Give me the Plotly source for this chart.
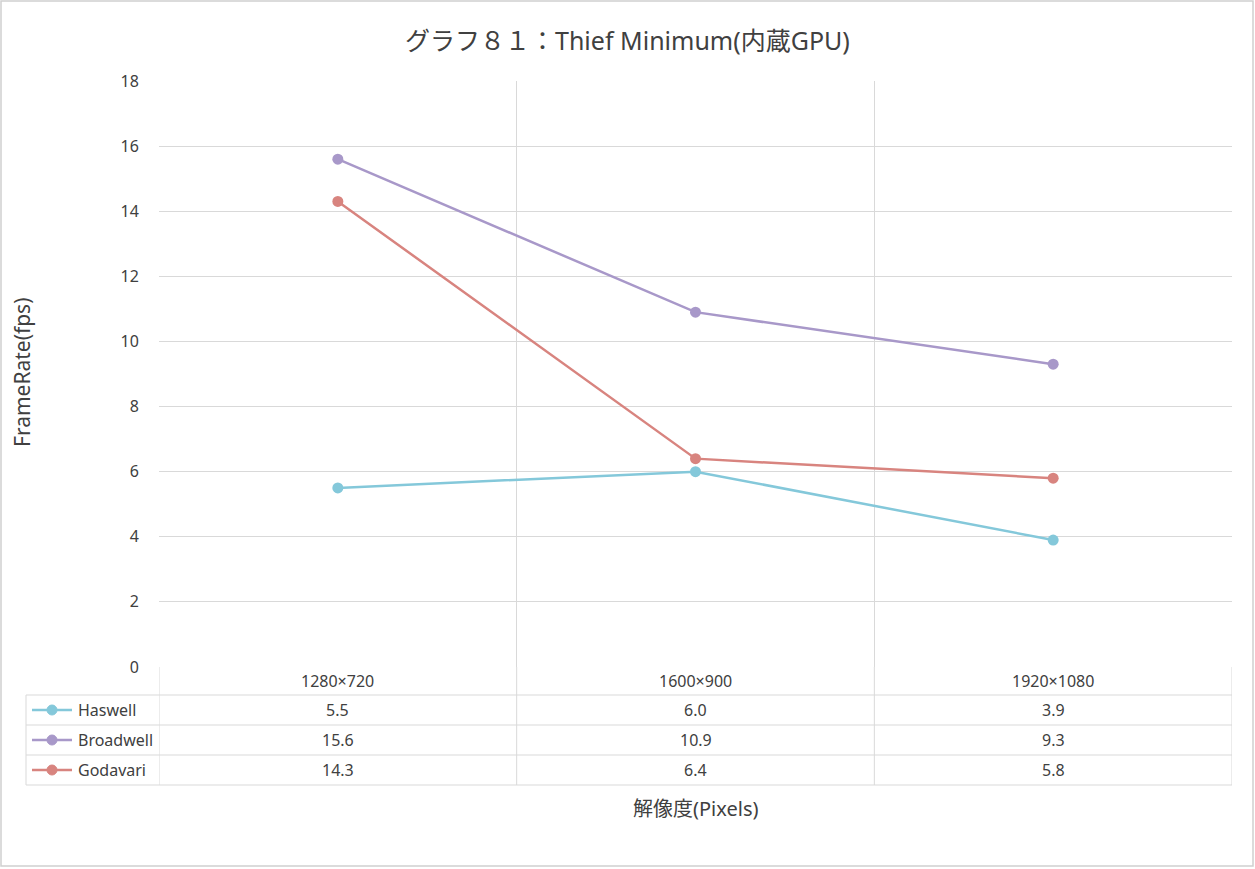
import plotly.graph_objects as go

categories = ["1280×720", "1600×900", "1920×1080"]
series_names = ["Haswell", "Broadwell", "Godavari"]
haswell = [5.5, 6.0, 3.9]
broadwell = [15.6, 10.9, 9.3]
godavari = [14.3, 6.4, 5.8]
series_values = [haswell, broadwell, godavari]
colors = ["#84C8DA", "#A898C9", "#D8847F"]
y_ticks = [0, 2, 4, 6, 8, 10, 12, 14, 16, 18]

W, H = 1255, 869
L, R, T, B = 159, 1232, 81, 667
pw, ph = R - L, B - T

def px(x):
    return (x - L) / pw

def py(y):
    return (B - y) / ph

FONT = "Noto Sans, Noto Sans CJK JP, sans-serif"
GRID = "#D9D9D9"
TXT = "#404040"

fig = go.Figure()
xpos = [i + 0.5 for i in range(len(categories))]
for name, vals, col in zip(series_names, series_values, colors):
    fig.add_trace(go.Scatter(
        x=xpos, y=vals, name=name, mode="lines+markers",
        line=dict(color=col, width=2.5),
        marker=dict(color=col, size=11),
        showlegend=False,
    ))

shapes = []
shapes.append(dict(type="rect", xref="paper", yref="paper",
                   x0=px(1), x1=px(1253), y0=py(866), y1=py(1),
                   line=dict(color="#D0D0D0", width=1.5), layer="below"))
row_edges = [695, 725, 755, 785]
for yy in row_edges:
    shapes.append(dict(type="line", xref="paper", yref="paper",
                       x0=px(26), x1=1, y0=py(yy), y1=py(yy),
                       line=dict(color=GRID, width=1)))
for i in range(len(categories) + 1):
    shapes.append(dict(type="line", xref="x", yref="paper",
                       x0=i, x1=i, y0=0, y1=py(785),
                       line=dict(color=GRID, width=1)))
shapes.append(dict(type="line", xref="paper", yref="paper",
                   x0=px(26), x1=px(26), y0=py(695), y1=py(785),
                   line=dict(color=GRID, width=1)))

annotations = []
for i, c in enumerate(categories):
    annotations.append(dict(x=i + 0.5, xref="x", y=py(681), yref="paper",
                            text=c, showarrow=False, xanchor="center", yanchor="middle",
                            font=dict(size=16, color=TXT, family=FONT)))
for r, (name, vals, col) in enumerate(zip(series_names, series_values, colors)):
    yc = (row_edges[r] + row_edges[r + 1]) / 2
    shapes.append(dict(type="line", xref="paper", yref="paper",
                       x0=px(32), x1=px(72), y0=py(yc), y1=py(yc),
                       line=dict(color=col, width=2.5)))
    shapes.append(dict(type="circle", xref="paper", yref="paper",
                       x0=px(47), x1=px(57), y0=py(yc + 5), y1=py(yc - 5),
                       fillcolor=col, line=dict(color=col, width=1)))
    annotations.append(dict(x=px(76), xref="paper", y=py(yc), yref="paper",
                            text=name, showarrow=False, xanchor="left", yanchor="middle",
                            font=dict(size=16, color=TXT, family=FONT)))
    for i, v in enumerate(vals):
        annotations.append(dict(x=i + 0.5, xref="x", y=py(yc), yref="paper",
                                text=f"{v:.1f}", showarrow=False, xanchor="center", yanchor="middle",
                                font=dict(size=16, color=TXT, family=FONT)))

annotations.append(dict(x=px(22), xref="paper", y=py(373), yref="paper",
                        text="FrameRate(fps)", textangle=-90, showarrow=False,
                        xanchor="center", yanchor="middle",
                        font=dict(size=21, color=TXT, family=FONT)))
annotations.append(dict(x=px(695), xref="paper", y=py(808), yref="paper",
                        text="解像度(Pixels)", showarrow=False,
                        xanchor="center", yanchor="middle",
                        font=dict(size=20, color=TXT, family=FONT)))
annotations.append(dict(x=px(627), xref="paper", y=py(40), yref="paper",
                        text="グラフ８１：Thief Minimum(内蔵GPU)", showarrow=False,
                        xanchor="center", yanchor="middle",
                        font=dict(size=25, color=TXT, family=FONT)))

fig.update_layout(
    width=W, height=H,
    margin=dict(l=L, r=W - R, t=T, b=H - B, pad=0),
    paper_bgcolor="white", plot_bgcolor="white",
    font=dict(family=FONT, color=TXT),
    xaxis=dict(range=[0, 3], tickvals=[0, 1, 2, 3], showticklabels=False,
               showgrid=True, gridcolor=GRID, gridwidth=1, zeroline=False,
               showline=False, fixedrange=True),
    yaxis=dict(range=[0, 18], tickvals=y_ticks, showgrid=True, gridcolor=GRID,
               gridwidth=1, zeroline=False, showline=False,
               tickfont=dict(size=16, color=TXT, family=FONT),
               ticks="outside", ticklen=16, tickcolor="rgba(0,0,0,0)"),
    shapes=shapes, annotations=annotations,
)

fig.write_html(
    "out.html",
    config={"displayModeBar": False},
    post_script="document.body.style.margin='0';document.body.style.overflow='hidden';",
)
